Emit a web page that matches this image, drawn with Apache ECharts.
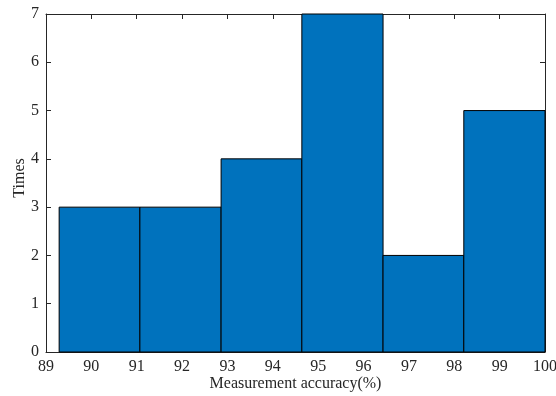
<!DOCTYPE html>
<html>
<head>
<meta charset="utf-8">
<script src="https://cdn.jsdelivr.net/npm/echarts@6/dist/echarts.min.js"></script>
<style>html,body{margin:0;padding:0;background:#fff}#c{width:556px;height:396px}</style>
</head>
<body>
<div id="c"></div>
<script>
var binEdges = [89.29, 91.07, 92.86, 94.64, 96.43, 98.21, 100];
var counts = [3, 3, 4, 7, 2, 5];
var xTicks = [89, 90, 91, 92, 93, 94, 95, 96, 97, 98, 99, 100];
var yTicks = [0, 1, 2, 3, 4, 5, 6, 7];

var data = counts.map(function (c, i) { return [binEdges[i], binEdges[i + 1], c]; });
var font = 'Liberation Serif';
var axisColor = '#262626';
var chart = echarts.init(document.getElementById('c'));
var baseX = {
  type: 'value', min: 89, max: 100, interval: 1,
  axisLine: { show: true, onZero: false, lineStyle: { color: axisColor, width: 1 } },
  axisTick: { show: true, inside: true, length: 5, lineStyle: { color: axisColor } },
  splitLine: { show: false }
};
var baseY = {
  type: 'value', min: 0, max: 7, interval: 1,
  axisLine: { show: true, onZero: false, lineStyle: { color: axisColor, width: 1 } },
  axisTick: { show: true, inside: true, length: 5, lineStyle: { color: axisColor } },
  splitLine: { show: false }
};
chart.setOption({
  animation: false,
  grid: { left: 46, top: 14, right: 11, bottom: 44, containLabel: false, outerBoundsMode: 'none' },
  xAxis: [
    Object.assign({}, baseX, {
      position: 'bottom',
      name: 'Measurement accuracy(%)', nameLocation: 'middle', nameGap: 24, nameMoveOverlap: false,
      nameTextStyle: { fontFamily: font, fontSize: 16, color: '#262626' },
      axisLabel: { fontFamily: font, fontSize: 16, color: '#262626', margin: 7 }
    }),
    Object.assign({}, baseX, { position: 'top', axisLabel: { show: false } })
  ],
  yAxis: [
    Object.assign({}, baseY, {
      position: 'left',
      name: 'Times', nameLocation: 'middle', nameGap: 18, nameMoveOverlap: false,
      nameTextStyle: { fontFamily: font, fontSize: 16, color: '#262626', padding: [0, 0, 0, 10] },
      axisLabel: { fontFamily: font, fontSize: 16, color: '#262626', margin: 7 }
    }),
    Object.assign({}, baseY, { position: 'right', axisLabel: { show: false } })
  ],
  series: [{
    type: 'custom',
    xAxisIndex: 0, yAxisIndex: 0,
    data: data,
    encode: { x: [0, 1], y: 2 },
    renderItem: function (params, api) {
      var p0 = api.coord([api.value(0), api.value(2)]);
      var p1 = api.coord([api.value(1), 0]);
      return {
        type: 'rect',
        shape: { x: p0[0], y: p0[1], width: p1[0] - p0[0], height: p1[1] - p0[1] },
        style: { fill: '#0072BD', stroke: '#000', lineWidth: 1 }
      };
    }
  }]
});
</script>
</body>
</html>
